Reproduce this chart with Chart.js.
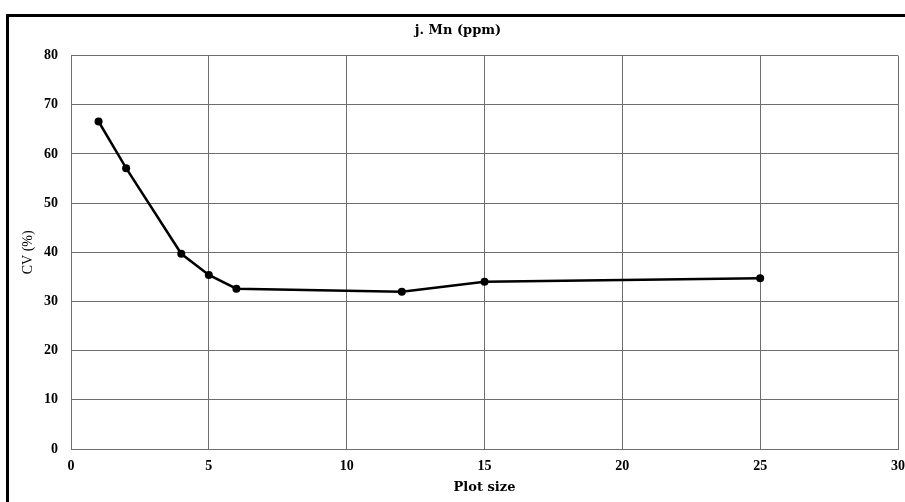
<!DOCTYPE html>
<html>
<head>
<meta charset="utf-8">
<script src="https://cdn.jsdelivr.net/npm/chart.js@4.4.0/dist/chart.umd.min.js"></script>
<style>
  html, body { margin: 0; padding: 0; background: #fff; overflow: hidden; }
  #frame {
    position: absolute; left: 6px; top: 14px; width: 1000px; height: 1000px;
    border-left: 3px solid #000; border-top: 3px solid #000;
  }
  #wrap { position: absolute; left: 0; top: 0; width: 905px; height: 502px; }
</style>
</head>
<body>
<div id="frame"></div>
<div id="wrap"><canvas id="cvChart"></canvas></div>
<script>
// Plot size vs CV (%) for Mn
const plotSizes = [1, 2, 4, 5, 6, 12, 15, 25];
const cvValues = [66.6, 57.1, 39.7, 35.4, 32.6, 32.0, 34.0, 34.7];

const xTicks = [0, 5, 10, 15, 20, 25, 30];
const yTicks = [0, 10, 20, 30, 40, 50, 60, 70, 80];

const serif = "'Liberation Serif', 'DejaVu Serif', serif";
const wideSerif = "'DejaVu Serif', serif";
const gridColor = '#6e6e6e';

function renderChart() {
    const ctx = document.getElementById('cvChart');
    const points = plotSizes.map((x, i) => ({ x, y: cvValues[i] }));

    new Chart(ctx, {
        type: 'scatter',
        data: {
            datasets: [{
                data: points,
                showLine: true,
                borderColor: '#000',
                backgroundColor: '#000',
                borderWidth: 2.5,
                pointRadius: 4,
                pointBorderWidth: 0,
                tension: 0
            }]
        },
        options: {
            responsive: true,
            maintainAspectRatio: false,
            animation: false,
            layout: { padding: { top: 14, left: 18, right: 7, bottom: 0 } },
            plugins: {
                legend: { display: false },
                tooltip: { enabled: false },
                title: {
                    display: true,
                    text: 'j. Mn (ppm)',
                    color: '#000',
                    font: { family: wideSerif, size: 13, weight: 'bold' },
                    padding: { top: 9, bottom: 17 }
                }
            },
            scales: {
                x: {
                    type: 'linear',
                    min: 0,
                    max: 30,
                    afterBuildTicks: s => { s.ticks = xTicks.map(v => ({ value: v })); },
                    afterFit: s => { s.height = 53; s.paddingLeft = 0; s.paddingRight = 0; },
                    grid: { color: gridColor, lineWidth: 1, drawTicks: false },
                    border: { color: gridColor, width: 1 },
                    ticks: {
                        color: '#000',
                        padding: 9,
                        maxRotation: 0,
                        font: { family: serif, size: 14, weight: 'bold' }
                    },
                    title: {
                        display: true,
                        text: 'Plot size',
                        color: '#000',
                        font: { family: wideSerif, size: 13, weight: 'bold' },
                        padding: { top: 0, bottom: 7 }
                    }
                },
                y: {
                    type: 'linear',
                    min: 0,
                    max: 80,
                    afterBuildTicks: s => { s.ticks = yTicks.map(v => ({ value: v })); },
                    afterFit: s => { s.width = 53; s.paddingTop = 0; s.paddingBottom = 0; },
                    grid: { color: gridColor, lineWidth: 1, drawTicks: false },
                    border: { color: gridColor, width: 1 },
                    ticks: {
                        color: '#000',
                        padding: 13,
                        font: { family: serif, size: 14, weight: 'bold' }
                    },
                    title: {
                        display: true,
                        text: 'CV (%)',
                        color: '#000',
                        font: { family: serif, size: 14, weight: 'normal' },
                        padding: { top: 1.6, bottom: 0 }
                    }
                }
            }
        }
    });
}

renderChart();
</script>
</body>
</html>
